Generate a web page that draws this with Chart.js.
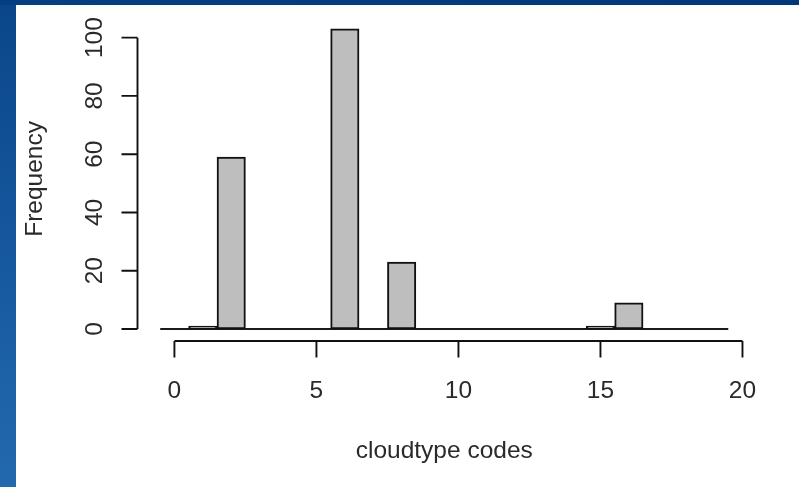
<!DOCTYPE html>
<html>
<head>
<meta charset="utf-8">
<script src="https://cdn.jsdelivr.net/npm/chart.js@4/dist/chart.umd.min.js"></script>
<style>
  html, body { margin: 0; padding: 0; }
  body {
    width: 799px; height: 487px; overflow: hidden; position: relative;
    background: linear-gradient(to bottom, #0a4589 0%, #17599f 55%, #2369ae 100%);
  }
  #topband {
    position: absolute; left: 0; top: 0; width: 799px; height: 5px;
    background: linear-gradient(to right, #053f82, #00387a);
  }
  #panel {
    position: absolute; left: 16px; top: 5px; width: 783px; height: 482px;
    background: #ffffff;
  }
  #wrap { position: absolute; left: 0; top: 0; width: 799px; height: 487px; }
</style>
</head>
<body>
<div id="topband"></div>
<div id="panel"></div>
<div id="wrap"><canvas id="chart" width="799" height="487"></canvas></div>
<script>
// Histogram of cloud type codes: one bin per integer code
const codes  = [0, 1, 2, 3, 4, 5, 6, 7, 8, 9, 10, 11, 12, 13, 14, 15, 16, 17, 18, 19];
const counts = [0, 1, 59, 0, 0, 0, 103, 0, 23, 0, 0, 0, 0, 0, 0, 1, 9, 0, 0, 0];

const xTicks = [0, 5, 10, 15, 20];
const yTicks = [0, 20, 40, 60, 80, 100];

const xTitle = 'cloudtype codes';
const yTitle = 'Frequency';

// bin edges lie half a unit either side of each code
const binLo = codes[0] - 0.5;
const binHi = codes[codes.length - 1] + 0.5;
const yMaxData = Math.max(...counts);
// plot region padded by 4% of the data range on each side
const xPad = (binHi - binLo) * 0.04;
const yPad = yMaxData * 0.04;

const FONT = '24.5px "Liberation Sans", Arial, sans-serif';
const INK = '#2a2a2a';

const axesPlugin = {
  id: 'baseAxes',
  afterDraw(chart) {
    const ctx = chart.ctx;
    const xs = chart.scales.x, ys = chart.scales.y;
    const area = chart.chartArea;
    ctx.save();
    ctx.strokeStyle = '#111111';
    ctx.lineWidth = 1.9;
    ctx.fillStyle = INK;
    ctx.font = FONT;

    // bottom axis
    const ax = area.bottom;
    ctx.beginPath();
    ctx.moveTo(xs.getPixelForValue(xTicks[0]), ax);
    ctx.lineTo(xs.getPixelForValue(xTicks[xTicks.length - 1]), ax);
    xTicks.forEach(v => {
      const p = xs.getPixelForValue(v);
      ctx.moveTo(p, ax);
      ctx.lineTo(p, ax + 16.5);
    });
    ctx.stroke();
    ctx.textAlign = 'center';
    ctx.textBaseline = 'alphabetic';
    xTicks.forEach(v => ctx.fillText(String(v), xs.getPixelForValue(v), 398));
    ctx.fillText(xTitle, (area.left + area.right) / 2, 458);

    // left axis
    const ay = area.left;
    ctx.beginPath();
    ctx.moveTo(ay, ys.getPixelForValue(yTicks[0]));
    ctx.lineTo(ay, ys.getPixelForValue(yTicks[yTicks.length - 1]));
    yTicks.forEach(v => {
      const p = ys.getPixelForValue(v);
      ctx.moveTo(ay, p);
      ctx.lineTo(ay - 16, p);
    });
    ctx.stroke();
    yTicks.forEach(v => {
      ctx.save();
      ctx.translate(101.5, ys.getPixelForValue(v));
      ctx.rotate(-Math.PI / 2);
      ctx.fillText(String(v), 0, 0);
      ctx.restore();
    });
    ctx.save();
    ctx.translate(42, (area.top + area.bottom) / 2);
    ctx.rotate(-Math.PI / 2);
    ctx.fillText(yTitle, 0, 0);
    ctx.restore();

    ctx.restore();
  }
};

new Chart(document.getElementById('chart'), {
  type: 'bar',
  data: {
    datasets: [
      {
        type: 'bar',
        data: codes.map((c, i) => ({ x: c, y: counts[i] })),
        backgroundColor: '#bebebe',
        borderColor: '#111111',
        borderWidth: 2,
        borderSkipped: false,
        barPercentage: 1,
        categoryPercentage: 1,
        order: 1
      },
      {
        // zero-count bins collapse onto the baseline
        type: 'line',
        data: [{ x: binLo, y: 0 }, { x: binHi, y: 0 }],
        borderColor: '#1a1a1a',
        borderWidth: 1.8,
        pointRadius: 0,
        order: 2
      }
    ]
  },
  options: {
    responsive: false,
    animation: false,
    events: [],
    layout: { padding: { left: 137.5, top: 16.9, right: 48, bottom: 146 } },
    plugins: { legend: { display: false }, tooltip: { enabled: false } },
    scales: {
      x: { type: 'linear', min: binLo - xPad, max: binHi + xPad, display: false, offset: false },
      y: { type: 'linear', min: -yPad, max: yMaxData + yPad, display: false }
    }
  },
  plugins: [axesPlugin]
});
</script>
</body>
</html>
